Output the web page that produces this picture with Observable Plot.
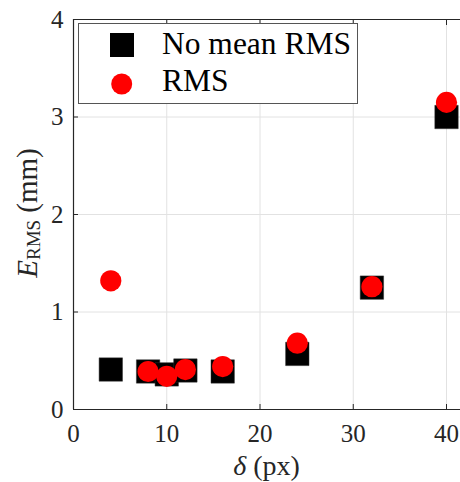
<!DOCTYPE html>
<html><head><meta charset="utf-8">
<script src="https://cdn.jsdelivr.net/npm/d3@7"></script>
<script src="https://cdn.jsdelivr.net/npm/@observablehq/plot@0.6"></script>
<style>
body{margin:0;background:#fff;}
#wrap{position:relative;width:460px;height:482px;}
#wrap svg text{font-family:'Liberation Serif','Times New Roman',serif !important;}
</style>
</head><body>
<div id="wrap"></div>
<script>
const delta = [4, 8, 10, 12, 16, 24, 32, 40];
const noMeanRMS = [0.41, 0.39, 0.36, 0.40, 0.39, 0.57, 1.25, 3.00];
const rms = [1.32, 0.39, 0.34, 0.41, 0.44, 0.68, 1.26, 3.15];
const xTicks = [0, 10, 20, 30, 40];
const yTicks = [0, 1, 2, 3, 4];
const seriesNames = ["No mean RMS", "RMS"];

const sq = delta.map((d, i) => ({x: d, y: noMeanRMS[i]}));
const ci = delta.map((d, i) => ({x: d, y: rms[i]}));
const axisColor = "#262626";
const gridColor = "#e2e2e2";
const serif = "'Liberation Serif','Times New Roman',serif";

const chart = Plot.plot({
  width: 460, height: 482,
  marginLeft: 73, marginRight: 0, marginTop: 19, marginBottom: 73,
  x: {domain: [0, 41.5]},
  y: {domain: [0, 4]},
  style: {fontFamily: serif, fontSize: "25px", color: axisColor, background: "#fff"},
  marks: [
    Plot.gridX({ticks: xTicks.filter(t => t > 0), stroke: gridColor, strokeOpacity: 1}),
    Plot.gridY({ticks: yTicks.filter(t => t > 0 && t < 4), stroke: gridColor, strokeOpacity: 1}),
    Plot.ruleX([0], {stroke: axisColor, strokeWidth: 1.2}),
    Plot.ruleY([0, 4], {stroke: axisColor, strokeWidth: 1.2}),
    Plot.axisX({ticks: xTicks, tickSize: -5, text: null, label: null, stroke: axisColor}),
    Plot.axisX({ticks: xTicks, anchor: "top", tickSize: -5, text: null, label: null, stroke: axisColor}),
    Plot.axisX({ticks: xTicks, tickSize: 0, tickPadding: 15, label: null, tickFormat: d => String(d), fontSize: 25, fill: axisColor}),
    Plot.axisY({ticks: yTicks, tickSize: -5, text: null, label: null, stroke: axisColor}),
    Plot.axisY({ticks: yTicks, tickSize: 0, tickPadding: 10, label: null, tickFormat: d => String(d), fontSize: 25, fill: axisColor}),
    Plot.dot(sq, {x: "x", y: "y", symbol: "square", r: 13.2, fill: "black", stroke: "#333", strokeWidth: 0.5}),
    Plot.dot(ci, {x: "x", y: "y", r: 10.6, fill: "red"})
  ]
});

const svg = d3.select(chart);
// x label
const xl = svg.append("text").attr("x", 266.5).attr("y", 475).attr("text-anchor", "middle")
  .attr("font-family", serif).attr("fill", axisColor).style("font-size", "28px");
xl.append("tspan").attr("font-style", "italic").text("δ");
xl.append("tspan").text(" (px)");
// y label
const yl = svg.append("text").attr("transform", "translate(37,213) rotate(-90)").attr("text-anchor", "middle")
  .attr("font-family", serif).attr("fill", axisColor).style("font-size", "29px");
yl.append("tspan").attr("font-style", "italic").text("E");
yl.append("tspan").attr("dy", 3).style("font-size", "19px").text("RMS");
yl.append("tspan").attr("dy", -3).text(" (mm)");
// legend
const lg = svg.append("g").attr("text-anchor", "start").attr("font-family", serif);
lg.append("rect").attr("x", 78.5).attr("y", 23.5).attr("width", 279).attr("height", 80)
  .attr("fill", "#fff").attr("stroke", "#555").attr("stroke-width", 1);
lg.append("rect").attr("x", 110).attr("y", 33).attr("width", 24).attr("height", 24).attr("fill", "black");
lg.append("circle").attr("cx", 121.7).attr("cy", 84).attr("r", 10.5).attr("fill", "red");
lg.append("text").attr("x", 162).attr("y", 53.5).attr("fill", "#000").style("font-size", "31.5px").text(seriesNames[0]);
lg.append("text").attr("x", 162).attr("y", 91).attr("fill", "#000").style("font-size", "31.5px").text(seriesNames[1]);

document.getElementById("wrap").appendChild(chart);
</script>
</body></html>
